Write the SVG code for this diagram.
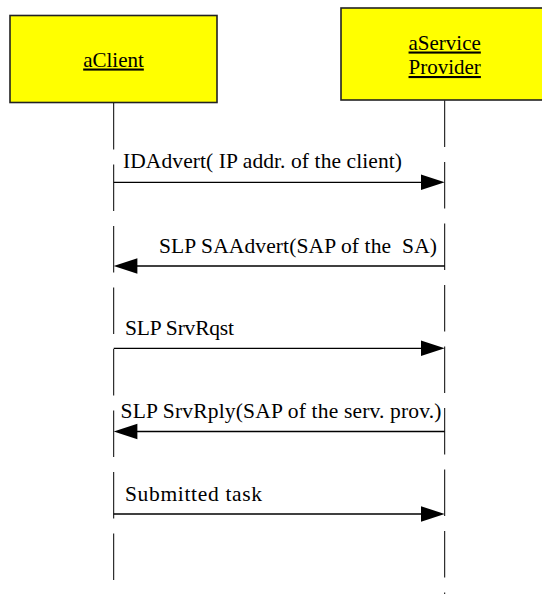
<svg xmlns="http://www.w3.org/2000/svg" width="542" height="594" viewBox="0 0 542 594" font-family="Liberation Serif, serif">
<style>
.box{fill:#FFFF00;stroke:#222;stroke-width:1.6}
.title{font-size:21px;fill:#000;text-anchor:middle;text-decoration:underline}
.life{stroke:#000;stroke-width:1;stroke-dasharray:46.5 15;fill:none}
.msg{stroke:#000;stroke-width:1.3;fill:none}
.head{fill:#000;stroke:none}
.lbl{font-size:21.5px;fill:#000;white-space:pre}
</style>
<rect width="542" height="594" fill="#fff"/>
<g id="aClient">
<rect class="box" x="10" y="15.5" width="207" height="87"/>
<text class="title" x="113.5" y="66.5">aClient</text>
</g>
<g id="aServiceProvider">
<rect class="box" x="341" y="8" width="210" height="92"/>
<text class="title" x="444.7" y="49.5">aService</text>
<text class="title" x="444.7" y="74">Provider</text>
</g>
<g id="connectors">
<line class="life" x1="113.7" y1="103" x2="113.7" y2="594"/>
<line class="life" x1="444.7" y1="100.5" x2="444.7" y2="594"/>
<g id="m1">
<line class="msg" x1="113.7" y1="182.3" x2="424" y2="182.3"/>
<polygon class="head" points="421,174.5 444.7,182.3 421,190.1"/>
<text class="lbl" x="123" y="168" textLength="279" lengthAdjust="spacing">IDAdvert( IP addr. of the client)</text>
</g>
<g id="m2">
<line class="msg" x1="444.7" y1="266" x2="134" y2="266"/>
<polygon class="head" points="137.4,258.2 113.7,266 137.4,273.8"/>
<text class="lbl" x="159" y="253" textLength="278" lengthAdjust="spacing">SLP SAAdvert(SAP of the  SA)</text>
</g>
<g id="m3">
<line class="msg" x1="113.7" y1="348.3" x2="424" y2="348.3"/>
<polygon class="head" points="421,340.5 444.7,348.3 421,356.1"/>
<text class="lbl" x="125" y="335" textLength="109" lengthAdjust="spacing">SLP SrvRqst</text>
</g>
<g id="m4">
<line class="msg" x1="444.7" y1="431.5" x2="134" y2="431.5"/>
<polygon class="head" points="137.4,423.7 113.7,431.5 137.4,439.3"/>
<text class="lbl" x="120.5" y="417.5" textLength="321" lengthAdjust="spacing">SLP SrvRply(SAP of the serv. prov.)</text>
</g>
<g id="m5">
<line class="msg" x1="113.7" y1="514" x2="424" y2="514"/>
<polygon class="head" points="421,506.2 444.7,514 421,521.8"/>
<text class="lbl" x="125" y="500.5" textLength="137" lengthAdjust="spacing">Submitted task</text>
</g>
</g>
</svg>
